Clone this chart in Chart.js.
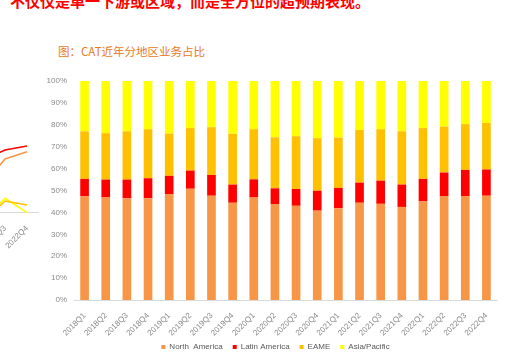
<!DOCTYPE html>
<html><head><meta charset="utf-8">
<script src="https://cdn.jsdelivr.net/npm/chart.js@4.4.1/dist/chart.umd.min.js"></script>
<style>
html,body{margin:0;padding:0;background:#fff;width:505px;height:353px;overflow:hidden;position:relative;}
#top{position:absolute;left:10px;top:-7px;font:bold 15px "Noto Sans CJK SC";color:#ff0000;white-space:nowrap;line-height:15px;}
#title{position:absolute;left:58px;top:44px;font:11.5px "Noto Sans CJK SC";color:#E97A23;white-space:nowrap;line-height:15px;}
#c1{position:absolute;left:0;top:0;}
#c2{position:absolute;left:-80px;top:0;}
</style></head><body>
<div id="top">不仅仅是单一下游或区域，而是全方位的超预期表现。</div>
<div id="title">图：CAT近年分地区业务占比</div>
<canvas id="c2" width="120" height="353"></canvas>
<canvas id="c1" width="505" height="361"></canvas>
<script>
const categories = ['2018Q1','2018Q2','2018Q3','2018Q4','2019Q1','2019Q2','2019Q3','2019Q4','2020Q1','2020Q2','2020Q3','2020Q4','2021Q1','2021Q2','2021Q3','2021Q4','2022Q1','2022Q2','2022Q3','2022Q4'];
const northAmerica = [47.3,47.0,46.4,46.4,48.4,50.8,47.6,44.4,46.8,43.8,43.0,40.8,41.9,44.4,43.9,42.5,45.0,47.5,47.5,47.6];
const latinAmerica = [8.0,8.0,8.6,9.2,8.3,8.3,9.5,8.3,8.3,7.2,7.7,9.1,9.3,9.2,10.6,10.2,10.3,10.7,11.9,12.0];
const eame = [21.7,21.2,22.0,22.4,19.3,19.4,21.8,23.2,22.9,23.3,24.1,24.0,23.0,24.0,23.5,24.3,23.2,21.0,20.9,21.2];
const asiaPacific = [23.0,23.8,23.0,22.0,24.0,21.5,21.1,24.1,22.0,25.7,25.2,26.1,25.8,22.4,22.0,23.0,21.5,20.8,19.7,19.2];
const yTicks = [0,10,20,30,40,50,60,70,80,90,100];

// partially visible neighbouring line chart (left edge)
const leftCategories = ['2022Q2','2022Q3','2022Q4'];
const leftLatin = [52.6,62.7,66.7];
const leftNorth = [27.3,53.7,61.0];
const leftEame = [-9,11.7,7.7];
const leftAsia = [-7.6,14.4,0];

const colors = {na:'#F79646', la:'#FF0000', eame:'#FFC000', ap:'#FFFF00'};
const tickColor = '#8a8a8a';

const layoutTweak = {
  id:'layoutTweak',
  afterLayout(chart){
    const x = chart.scales.x;
    if (x) x.bottom = x.top + 45;
  },
  beforeDraw(chart){
    const l = chart.legend;
    if (l) { l.left = 54; l.right = 497; }
  }
};

new Chart(document.getElementById('c1'), {
  type:'bar',
  data:{labels:categories, datasets:[
    {label:'North  America', data:northAmerica, backgroundColor:colors.na},
    {label:'Latin America', data:latinAmerica, backgroundColor:colors.la},
    {label:'EAME', data:eame, backgroundColor:colors.eame},
    {label:'Asia/Pacific', data:asiaPacific, backgroundColor:colors.ap}
  ]},
  plugins:[layoutTweak],
  options:{
    responsive:false, animation:false, devicePixelRatio:1,
    barPercentage:0.41, categoryPercentage:1,
    layout:{padding:{top:81,left:0,right:8,bottom:0}},
    plugins:{
      tooltip:{enabled:false},
      legend:{position:'bottom', labels:{boxWidth:4, boxHeight:4, padding:10, color:'#595959', font:{family:'Liberation Sans', size:8}}}
    },
    scales:{
      x:{stacked:true, grid:{display:false}, border:{color:'#d9d9d9'},
         ticks:{color:tickColor, font:{family:'Liberation Sans', size:8}, minRotation:45, maxRotation:45, autoSkip:false},
         afterFit:(s)=>{s.height=33;}},
      y:{stacked:true, min:0, max:100, grid:{display:false, drawTicks:false}, border:{display:false},
         afterBuildTicks:(s)=>{s.ticks = yTicks.map(v=>({value:v}));},
         ticks:{color:tickColor, padding:7, font:{family:'Liberation Sans', size:8}, callback:(v)=>v+'%'},
         afterFit:(s)=>{s.width=74;}}
    }
  }
});

new Chart(document.getElementById('c2'), {
  type:'line',
  data:{labels:leftCategories, datasets:[
    {data:leftLatin, borderColor:colors.la, borderWidth:1.5, pointRadius:0, fill:false},
    {data:leftNorth, borderColor:colors.na, borderWidth:1.5, pointRadius:0, fill:false},
    {data:leftEame, borderColor:colors.eame, borderWidth:1.5, pointRadius:0, fill:false},
    {data:leftAsia, borderColor:colors.ap, borderWidth:1.5, pointRadius:0, fill:false}
  ]},
  options:{
    responsive:false, animation:false, devicePixelRatio:1,
    layout:{padding:{top:82.7,left:52,right:2,bottom:80.3}},
    plugins:{legend:{display:false}, tooltip:{enabled:false}},
    scales:{
      x:{offset:true, grid:{display:false}, border:{color:'#d9d9d9'},
         ticks:{color:tickColor, font:{family:'Liberation Sans', size:8}, minRotation:45, maxRotation:45, autoSkip:false},
         afterFit:(s)=>{s.height=60;}},
      y:{display:false, min:0, max:130}
    }
  }
});
</script>
</body></html>
